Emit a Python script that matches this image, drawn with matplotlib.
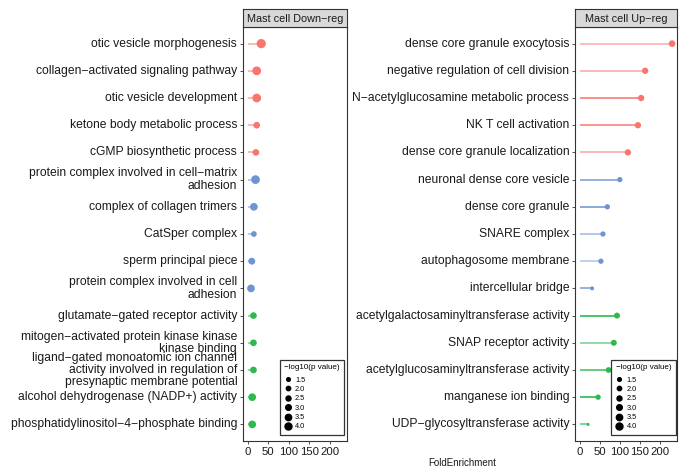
import matplotlib
matplotlib.use("Agg")
import matplotlib.pyplot as plt
from matplotlib.lines import Line2D

plt.rcParams['font.family'] = ['Liberation Sans', 'DejaVu Sans']

# ---------------- data ----------------
down_terms = [
    "otic vesicle morphogenesis",
    "collagen−activated signaling pathway",
    "otic vesicle development",
    "ketone body metabolic process",
    "cGMP biosynthetic process",
    "protein complex involved in cell−matrix\nadhesion",
    "complex of collagen trimers",
    "CatSper complex",
    "sperm principal piece",
    "protein complex involved in cell\nadhesion",
    "glutamate−gated receptor activity",
    "mitogen−activated protein kinase kinase\nkinase binding",
    "ligand−gated monoatomic ion channel\nactivity involved in regulation of\npresynaptic membrane potential",
    "alcohol dehydrogenase (NADP+) activity",
    "phosphatidylinositol−4−phosphate binding",
]
down_category = ["BP"] * 5 + ["CC"] * 5 + ["MF"] * 5
down_fold = [33, 22, 22, 22, 20, 19, 15, 15, 10, 8, 14, 14, 14, 11, 11]
down_logp = [4.0, 3.8, 3.8, 2.9, 2.9, 3.8, 3.35, 2.5, 3.0, 3.35, 2.9, 2.9, 2.9, 3.35, 3.35]

up_terms = [
    "dense core granule exocytosis",
    "negative regulation of cell division",
    "N−acetylglucosamine metabolic process",
    "NK T cell activation",
    "dense core granule localization",
    "neuronal dense core vesicle",
    "dense core granule",
    "SNARE complex",
    "autophagosome membrane",
    "intercellular bridge",
    "acetylgalactosaminyltransferase activity",
    "SNAP receptor activity",
    "acetylglucosaminyltransferase activity",
    "manganese ion binding",
    "UDP−glycosyltransferase activity",
]
up_category = ["BP"] * 5 + ["CC"] * 5 + ["MF"] * 5
up_fold = [230, 163, 153, 145, 120, 100, 69, 58, 53, 31, 93, 85, 72, 46, 21]
up_logp = [2.9, 2.75, 2.75, 2.75, 2.75, 2.3, 2.3, 2.3, 2.3, 1.75, 2.6, 2.6, 2.5, 2.3, 1.3]
up_seg_alpha = [0.55, 0.6, 0.95, 0.9, 0.6, 0.85, 0.95, 0.6, 0.5, 0.85, 1.0, 0.6, 0.85, 1.0, 0.7]
down_seg_alpha = [0.6] * 15

x_ticks = [0, 50, 100, 150, 200]
legend_breaks = [1.5, 2.0, 2.5, 3.0, 3.5, 4.0]

titles = ["Mast cell Down−reg", "Mast cell Up−reg"]
cat_colors = {"BP": "#F8766D", "CC": "#6E95D3", "MF": "#2EB94C"}

# ---------------- figure ----------------
W, H = 679, 467
fig = plt.figure(figsize=(W / 100, H / 100), dpi=100)


def px_rect(x0, y0, x1, y1):
    return [x0 / W, 1 - y1 / H, (x1 - x0) / W, (y1 - y0) / H]


def dot_size(v):
    d_px = 2.3 * v
    return (d_px * 0.72) ** 2


def key_size(v):
    d_px = 3.7 + 1.32 * (v - 1.5)
    return d_px * 0.72


panels = [
    (down_terms, down_category, down_fold, down_logp, down_seg_alpha, (243, 346.7)),
    (up_terms, up_category, up_fold, up_logp, up_seg_alpha, (575, 676.7)),
]
y_top, y_bot, strip_top = 27.3, 440.7, 9.3

all_fold = down_fold + up_fold
xmax = max(all_fold)
xlim = (-0.05 * xmax, 1.05 * xmax)

for i, (terms, cats, fold, logp, salpha, (x0, x1)) in enumerate(panels):
    ax = fig.add_axes(px_rect(x0, y_top, x1, y_bot))
    n = len(terms)
    ys = list(range(n))
    for y, f, c, a in zip(ys, fold, cats, salpha):
        ax.plot([0, f], [y, y], color=cat_colors[c], alpha=a, lw=1.2,
                solid_capstyle='butt', zorder=2)
    ax.scatter(fold, ys, s=[dot_size(v) for v in logp],
               c=[cat_colors[c] for c in cats], linewidths=0, zorder=3)
    ax.set_xlim(*xlim)
    ax.set_ylim(n - 1 + 0.6, -0.6)
    ax.set_yticks(ys)
    ax.set_yticklabels(terms, fontsize=8.7, color='#1a1a1a', linespacing=1.05,
                       multialignment='right', va='center')
    ax.set_xticks(x_ticks)
    ax.set_xticklabels([str(t) for t in x_ticks], fontsize=8.2, color='#1a1a1a')
    ax.tick_params(axis='both', length=2.2, width=0.6, color='#333333', pad=2)
    for s in ax.spines.values():
        s.set_linewidth(0.8)
        s.set_color('#333333')

    # strip
    sax = fig.add_axes(px_rect(x0, strip_top, x1, y_top))
    sax.set_xticks([])
    sax.set_yticks([])
    sax.set_facecolor('#D9D9D9')
    for s in sax.spines.values():
        s.set_linewidth(0.8)
        s.set_color('#333333')
    sax.text(0.5, 0.47, titles[i], ha='center', va='center', fontsize=7.8,
             color='#1a1a1a', transform=sax.transAxes)

    handles = [Line2D([], [], marker='o', ls='', color='black',
                      markersize=key_size(v)) for v in legend_breaks]
    leg = ax.legend(handles, [f"{v:.1f}" for v in legend_breaks],
                    title="−log10(p value)", loc='lower right',
                    bbox_to_anchor=(0.975 if i == 0 else 0.99, 0.014),
                    fontsize=5.3, title_fontsize=5.8, frameon=True,
                    fancybox=False, edgecolor='black', labelspacing=0.3,
                    handlelength=1.0, handletextpad=0.5, borderpad=0.6,
                    borderaxespad=0.0)
    leg.get_frame().set_linewidth(0.9)
    leg._legend_box.align = "left"
    leg._legend_box.sep = 4

fig.text(462 / W, 1 - 463 / H, "FoldEnrichment", ha='center', va='center',
         fontsize=7, color='#1a1a1a')

fig.savefig("out.png", dpi=100, facecolor='white')
